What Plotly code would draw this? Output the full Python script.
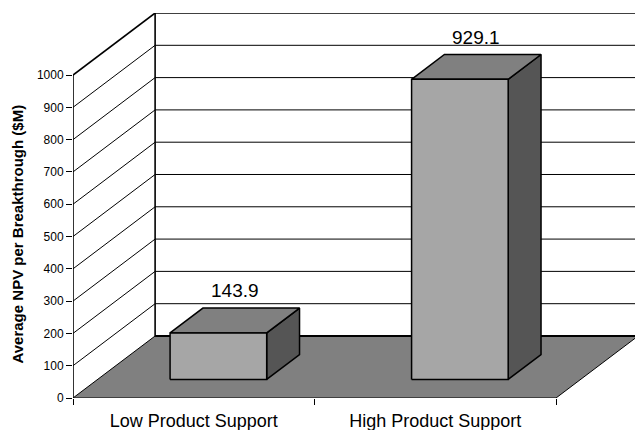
import plotly.graph_objects as go

# Chart data
categories = ["Low Product Support", "High Product Support"]
npv_values = [143.9, 929.1]
value_labels = ["143.9", "929.1"]
y_ticks = list(range(0, 1001, 100))
y_max = 1000

# Oblique projection used for the 3-D look (depth offsets in data units)
DX, DY = 0.34, 192.0
BAR_W = 0.4
BAR_D0, BAR_D1 = 0.3, 0.7
X_END = 562 / 241.5

FONT = "Liberation Sans, Arial, sans-serif"
FRONT, TOP, SIDE, FLOOR = "#a6a6a6", "#808080", "#555555", "#808080"


def proj(x, y, d):
    return x + d * DX, y + d * DY


def poly(points, fill, width=1.5):
    xs = [p[0] for p in points] + [points[0][0]]
    ys = [p[1] for p in points] + [points[0][1]]
    return go.Scatter(x=xs, y=ys, mode="lines", fill="toself", fillcolor=fill,
                      line=dict(color="black", width=width), hoverinfo="skip",
                      showlegend=False)


def segs(pairs, width=1.0, color="black"):
    xs, ys = [], []
    for a, b in pairs:
        xs += [a[0], b[0], None]
        ys += [a[1], b[1], None]
    return go.Scatter(x=xs, y=ys, mode="lines", line=dict(color=color, width=width),
                      hoverinfo="skip", showlegend=False)


fig = go.Figure()

# Back wall gridlines
fig.add_trace(segs([(proj(0, v, 1), proj(X_END + 1, v, 1)) for v in y_ticks[1:-1]], 1.0))
# Side wall gridlines
fig.add_trace(segs([((0, v), proj(0, v, 1)) for v in y_ticks[1:-1]], 1.0))
# Wall edges
fig.add_trace(segs([
    (proj(0, 0, 1), proj(0, y_max, 1)),
    (proj(0, y_max, 1), proj(X_END + 1, y_max, 1)),
    ((0, 0), (0, y_max)),
    ((0, y_max), proj(0, y_max, 1)),
], 1.6))

# Floor
n = len(categories)
fig.add_trace(poly([(0, 0), (n, 0), proj(n, 0, 1), proj(0, 0, 1)], FLOOR, 1.0))
fig.add_trace(segs([(proj(0, 0, 1), proj(X_END + 1, 0, 1))], 2.0))

# Bars
for i, v in enumerate(npv_values):
    x0 = i + 0.5 - BAR_W / 2
    x1 = x0 + BAR_W
    fig.add_trace(poly([proj(x1, 0, BAR_D0), proj(x1, 0, BAR_D1),
                        proj(x1, v, BAR_D1), proj(x1, v, BAR_D0)], SIDE))
    fig.add_trace(poly([proj(x0, v, BAR_D0), proj(x1, v, BAR_D0),
                        proj(x1, v, BAR_D1), proj(x0, v, BAR_D1)], TOP))
    fig.add_trace(poly([proj(x0, 0, BAR_D0), proj(x1, 0, BAR_D0),
                        proj(x1, v, BAR_D0), proj(x0, v, BAR_D0)], FRONT))
    lx, _ = proj(i + 0.5, v, (BAR_D0 + BAR_D1) / 2)
    _, ly = proj(i + 0.5, v, BAR_D1)
    fig.add_annotation(x=lx, y=ly, text=value_labels[i], showarrow=False,
                       xanchor="center", yanchor="bottom", yshift=5,
                       font=dict(family=FONT, size=19, color="black"))

fig.add_annotation(xref="paper", yref="paper", x=-0.0996, y=0.4247,
                   text="<b>Average NPV per Breakthrough ($M)</b>", textangle=-90,
                   showarrow=False, xanchor="center", yanchor="middle",
                   font=dict(family=FONT, size=15, color="black"))

fig.update_layout(
    width=635, height=430,
    margin=dict(l=73, r=0, t=13, b=32),
    paper_bgcolor="white", plot_bgcolor="white",
    xaxis=dict(range=[0, X_END], showgrid=False, zeroline=False, showline=False,
               tickvals=[i + 0.5 for i in range(n)], ticktext=categories, ticks="",
               ticklabelstandoff=10,
               tickfont=dict(family=FONT, size=18, color="black"),
               minor=dict(tickvals=list(range(n + 1)), ticks="outside", ticklen=6,
                          tickcolor="black", tickwidth=1, showgrid=False),
               fixedrange=True),
    yaxis=dict(range=[0, y_max + DY], showgrid=False, zeroline=False, showline=False,
               tickvals=y_ticks, ticks="outside", ticklen=6, tickcolor="black",
               tickwidth=1, tickfont=dict(family=FONT, size=12, color="black"),
               fixedrange=True),
)

fig.write_html("out.html")
